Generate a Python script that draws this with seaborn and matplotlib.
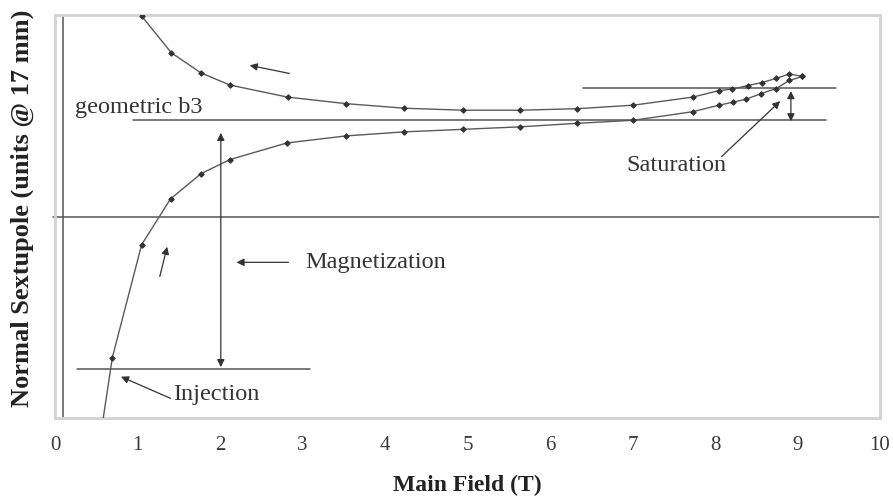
import matplotlib
matplotlib.use("Agg")
import matplotlib.pyplot as plt
import seaborn as sns
import pandas as pd

# Up-ramp (increasing field) branch: main field (T) vs normal sextupole
ramp_up_field = [0.55, 0.695, 1.05, 1.40, 1.77, 2.12, 2.81, 3.53, 4.23, 4.94, 5.64,
                 6.33, 7.01, 7.73, 8.05, 8.22, 8.38, 8.56, 8.74, 8.90, 9.06]
ramp_up_b3 = [-4.38, -2.80, -0.56, 0.35, 0.85, 1.13, 1.46, 1.60, 1.68, 1.73, 1.78,
              1.85, 1.91, 2.08, 2.21, 2.27, 2.33, 2.44, 2.54, 2.70, 2.78]

# Down-ramp (decreasing field) branch
ramp_down_field = [9.06, 8.90, 8.74, 8.57, 8.40, 8.21, 8.05, 7.73, 7.01, 6.33, 5.64,
                   4.94, 4.23, 3.53, 2.82, 2.12, 1.77, 1.41, 1.05]
ramp_down_b3 = [2.78, 2.83, 2.74, 2.66, 2.60, 2.53, 2.50, 2.37, 2.21, 2.14, 2.11,
                2.11, 2.15, 2.24, 2.37, 2.61, 2.85, 3.25, 3.98]

# Reference levels
geometric_b3 = 1.91
saturation_level = 2.55
injection_level = -3.03

x_ticks = [0, 1, 2, 3, 4, 5, 6, 7, 8, 9, 10]
x_label = "Main Field (T)"
y_label = "Normal Sextupole (units @ 17 mm)"

up = pd.DataFrame({"field": ramp_up_field, "b3": ramp_up_b3})
down = pd.DataFrame({"field": ramp_down_field, "b3": ramp_down_b3})

sns.set_theme(style="white")
plt.rcParams["font.family"] = ["Liberation Serif", "DejaVu Serif"]

fig = plt.figure(figsize=(8.93, 5.0), dpi=100)
ax = fig.add_axes([55 / 893, 82 / 500, 825 / 893, 403 / 500])

line_col = "#5a5a5a"
mark_col = "#333333"
for df in (up, down):
    sns.lineplot(data=df, x="field", y="b3", sort=False, ax=ax, color=line_col,
                 linewidth=1.0, marker="D", markersize=2.8, markeredgecolor=mark_col,
                 markerfacecolor=mark_col, zorder=3)

ax.set_xlim(0, 10)
ax.set_ylim(-4, 4)
ax.set_xticks(x_ticks)
ax.set_xticklabels([str(t) for t in x_ticks])
ax.set_yticks([])
ax.tick_params(axis="x", length=0, pad=13, labelsize=15, labelcolor="#3a3a3a")

for s in ax.spines.values():
    s.set_color("#d2d2d2")
    s.set_linewidth(2)

# Crossing axes
ax.axhline(0, xmin=-0.003, xmax=1, color="#555555", lw=1.1, clip_on=False, zorder=2)
ax.axvline(0.1, color="#555555", lw=1.1, zorder=2)

# Reference lines
ref_col = "#555555"
ax.plot([0.945, 9.35], [geometric_b3] * 2, color=ref_col, lw=1.1)
ax.plot([6.4, 9.47], [saturation_level] * 2, color=ref_col, lw=1.1)
ax.plot([0.27, 3.09], [injection_level] * 2, color=ref_col, lw=1.1)

arrow_kw = dict(arrowstyle="-|>", color="#333333", lw=0.9, mutation_scale=11,
                shrinkA=0, shrinkB=0)
dbl_kw = dict(arrowstyle="<|-|>", color="#333333", lw=0.9, mutation_scale=11,
              shrinkA=0, shrinkB=0)

# Magnetization span
ax.annotate("", xy=(2.01, 1.66), xytext=(2.01, -2.99), arrowprops=dbl_kw)
# Saturation span
ax.annotate("", xy=(8.92, 2.49), xytext=(8.92, 1.89), arrowprops=dbl_kw)

# Ramp direction arrows
ax.annotate("", xy=(2.36, 3.0), xytext=(2.84, 2.84), arrowprops=arrow_kw)
ax.annotate("", xy=(1.36, -0.60), xytext=(1.27, -1.19), arrowprops=arrow_kw)

# Labels with pointers
txt_kw = dict(fontsize=17.5, color="#333333", va="center", ha="left")
ax.annotate("", xy=(2.20, -0.91), xytext=(2.83, -0.91), arrowprops=arrow_kw)
ax.text(3.03, -0.91, "Magnetization", **txt_kw)
ax.annotate("", xy=(0.80, -3.18), xytext=(1.40, -3.61), arrowprops=arrow_kw)
ax.text(1.43, -3.54, "Injection", **txt_kw)
ax.annotate("", xy=(8.79, 2.29), xytext=(8.08, 1.19), arrowprops=arrow_kw)
ax.text(6.93, 1.01, "Saturation", **txt_kw)
ax.text(0.24, 2.16, "geometric b3", **txt_kw)

ax.set_xlabel(x_label, fontsize=17, fontweight="bold", color="#222222")
ax.set_ylabel(y_label, fontsize=19, fontweight="bold", color="#222222")
ax.xaxis.label.set_va("center")
ax.xaxis.set_label_coords(0.5, -0.167)
ax.yaxis.label.set_va("center")
ax.yaxis.set_label_coords(-0.04, 0.52)

fig.savefig("out.png", dpi=100)
